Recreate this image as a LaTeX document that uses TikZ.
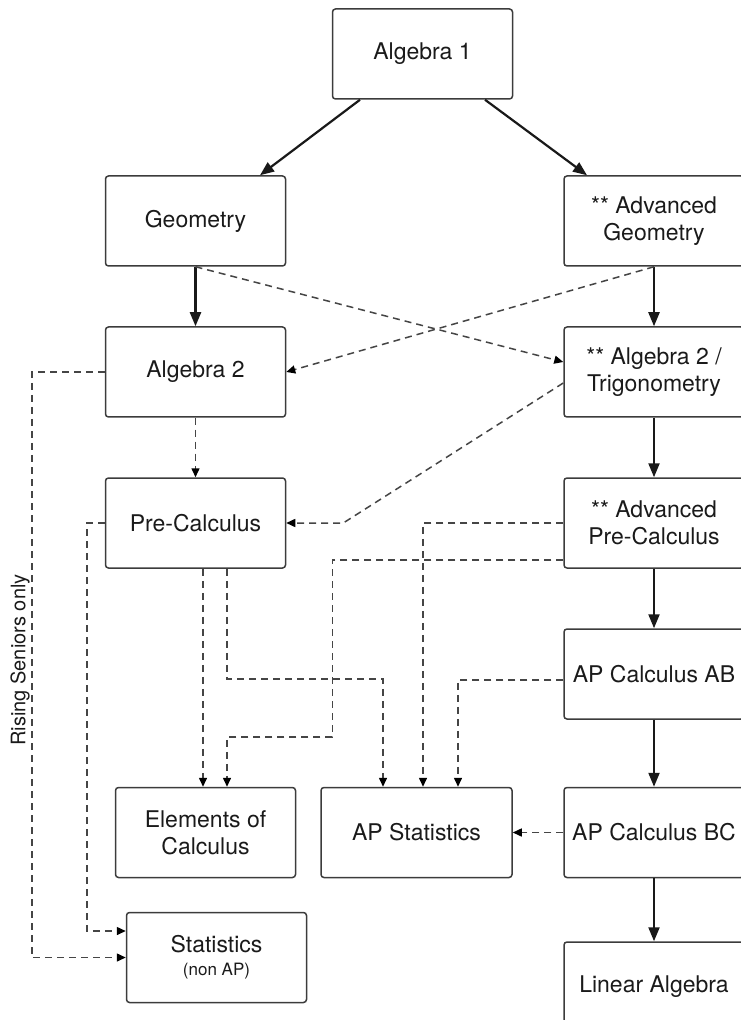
\documentclass[tikz,border=0pt]{standalone}
\usepackage{fontspec}
\setmainfont{TeX Gyre Heros}
\usetikzlibrary{arrows.meta}
\definecolor{boxgray}{HTML}{3C3C3C}
\definecolor{linegray}{HTML}{454545}
\definecolor{textgray}{HTML}{1A1A1A}
\begin{document}
\begin{tikzpicture}[x=0.5pt,y=-0.5pt,
  course/.style={draw=boxgray,line width=0.75pt,rounded corners=1.5pt,minimum width=90pt,minimum height=45pt,
    align=center,text=textgray,inner sep=2pt,font=\fontsize{11.5}{13.5}\selectfont},
  req/.style={draw=black!90,line width=1.1pt,-{Triangle[length=7pt,width=5.5pt]}},
  alt/.style={draw=linegray,line width=0.75pt,dash pattern=on 3.5pt off 2.5pt,-{Triangle[length=4.5pt,width=4pt,color=black]}}]
\useasboundingbox (0,0) rectangle (740,1020);

\node[course](alg1) at (422.5,54) {Algebra 1};
\node[course](geo) at (195.5,221) {Geometry};
\node[course](advgeo) at (654,221) {** Advanced\\Geometry};
\node[course](alg2) at (195.5,372) {Algebra 2};
\node[course](alg2trig) at (654,372) {** Algebra 2 /\\Trigonometry};
\node[course](precalc) at (195.5,523) {Pre-Calculus};
\node[course](advprecalc) at (654,523) {** Advanced\\Pre-Calculus};
\node[course](calcab) at (654,674) {AP Calculus AB};
\node[course](elem) at (205.5,832.5) {Elements of\\Calculus};
\node[course,minimum width=95.5pt](apstats) at (416.5,832.5) {AP Statistics};
\node[course](calcbc) at (654,832.5) {AP Calculus BC};
\node[course](stats) at (216.5,957.5) {Statistics\\[-2pt]{\fontsize{8.5}{10}\selectfont(non AP)}};
\node[course](linalg) at (654,987) {Linear Algebra};
\node[rotate=90,text=textgray,font=\fontsize{10}{12}\selectfont](rising) at (20,660) {Rising Seniors only};

\draw[req]([shift={(-62.5,0)}]alg1.south)--([shift={(64.5,0)}]geo.north);
\draw[req]([shift={(62.5,0)}]alg1.south)--([shift={(-67,0)}]advgeo.north);
\draw[req](geo)--(alg2);
\draw[req](advgeo)--(alg2trig);
\draw[req](alg2trig)--(advprecalc);
\draw[req](advprecalc)--(calcab);
\draw[req](calcab)--(calcbc);
\draw[req](calcbc)--(linalg);

\draw[alt](geo.south)--([shift={(0,-10)}]alg2trig.west);
\draw[alt](advgeo.south)--(alg2.east);
\draw[alt](alg2)--(precalc);
\draw[alt]([shift={(0,11)}]alg2trig.west)--([shift={(57,0)}]precalc.east)--(precalc.east);
\draw[alt](advprecalc.west)-|([shift={(6.5,0)}]apstats.north);
\draw[alt]([shift={(0,37)}]advprecalc.west)--++(-231,0)--++(0,177)-|([shift={(21.5,0)}]elem.north);
\draw[alt]([shift={(7.5,0)}]precalc.south)--([shift={(-2.5,0)}]elem.north);
\draw[alt]([shift={(31.5,0)}]precalc.south)--++(0,110)-|([shift={(-33.5,0)}]apstats.north);
\draw[alt]([shift={(0,6)}]calcab.west)-|([shift={(41.5,0)}]apstats.north);
\draw[alt](calcbc)--(apstats);
\draw[alt](alg2.west)--++(-73,0)|-(stats.west);
\draw[alt](precalc.west)--++(-18,0)|-([shift={(0,-26.5)}]stats.west);
\end{tikzpicture}
\end{document}
